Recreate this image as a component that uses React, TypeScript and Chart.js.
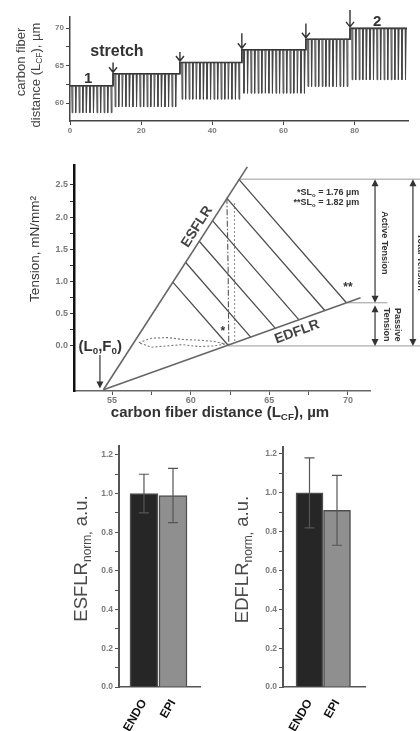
import React, { useEffect, useRef } from "react";
import { Chart, registerables } from "chart.js";

Chart.register(...registerables);

const FONT = "'Liberation Sans', Arial, Helvetica, sans-serif";

/* ---------------- Panel A: carbon fiber distance during stepwise stretch ---------------- */
const stepStartS = [0, 12.1, 30.9, 48.3, 66.3, 78.7];
const stepEndS = [12.1, 30.9, 48.3, 66.3, 78.7, 94.7];
const diastolicLcf = [62.3, 63.9, 65.4, 67.1, 68.5, 69.95];
const systolicLcf = [58.7, 59.5, 60.5, 61.3, 62.2, 63.1];
const pacingPeriodS = 1;
const stretchArrowTop = [65.4, 66.8, 69.3, 70.6, 72.4];
const timeTicks = [0, 20, 40, 60, 80];
const lcfTicksMajorA = [60, 65, 70];
const lcfTicksMinorA = [62.5, 67.5];

/* ---------------- Panel B: tension vs carbon fiber distance ---------------- */
const esflrX = [54.45, 63.6];
const esflrY = [-0.68, 2.78];
const edflrX = [54.45, 70.8];
const edflrY = [-0.68, 0.75];
const hatchStartX = [63.05, 62.28, 61.37, 60.53, 59.67, 58.86];
const hatchStartY = [2.59, 2.3, 1.95, 1.63, 1.3, 0.99];
const hatchEndX = [69.9, 68.54, 66.9, 65.4, 63.84, 62.38];
const hatchEndY = [0.67, 0.546, 0.4, 0.268, 0.13, 0.01];
const twitchLoopX = [56.7, 57.5, 58.5, 59.5, 60.5, 61.5, 62.2, 61.5, 60.5, 59.5, 58.5, 57.5, 56.7];
const twitchLoopY = [0.05, 0.12, 0.13, 0.1, 0.09, 0.07, 0.03, 0.0, -0.01, 0.02, 0.0, -0.02, 0.05];
const slTraceX = [62.3, 62.38, 62.42];
const slTraceY = [2.3, 1.2, 0.02];
const slTrace2X = [62.78, 62.8];
const slTrace2Y = [2.22, 0.05];
const totalTensionTop = 2.59;
const passiveTensionTop = 0.67;
const zeroTension = 0;
const tensionMajor = [0, 0.5, 1, 1.5, 2, 2.5];
const tensionMinor = [0.25, 0.75, 1.25, 1.75, 2.25];
const lcfMajor = [55, 60, 65, 70];
const lcfMinor = [57.5, 62.5, 67.5];

/* ---------------- Panels C, D: normalized slopes ---------------- */
const groups = ["ENDO", "EPI"];
const esflrMean = [1.0, 0.99];
const esflrSem = [0.1, 0.14];
const edflrMean = [1.0, 0.91];
const edflrSem = [0.18, 0.18];
const barMajor = [0, 0.2, 0.4, 0.6, 0.8, 1.0, 1.2];
const barMinor = [0.1, 0.3, 0.5, 0.7, 0.9, 1.1];
const barFill = ["#262626", "#8f8f8f"];

/* ---------------- helpers ---------------- */
type Part = { t: string; s?: "sub" | "sup" };

function rich(
  ctx: CanvasRenderingContext2D,
  parts: Part[],
  x: number,
  y: number,
  size: number,
  weight: string,
  color: string,
  align: "left" | "center" | "right" = "center",
  angle = 0
) {
  ctx.save();
  ctx.translate(x, y);
  if (angle) ctx.rotate(angle);
  ctx.fillStyle = color;
  ctx.textBaseline = "middle";
  ctx.textAlign = "left";
  const f = (p: Part) => `${weight} ${p.s ? (size * 0.65).toFixed(1) : size}px ${FONT}`;
  let w = 0;
  parts.forEach((p) => {
    ctx.font = f(p);
    w += ctx.measureText(p.t).width;
  });
  let cx = align === "left" ? 0 : align === "right" ? -w : -w / 2;
  parts.forEach((p) => {
    ctx.font = f(p);
    const dy = p.s === "sub" ? size * 0.3 : p.s === "sup" ? -size * 0.35 : 0;
    ctx.fillText(p.t, cx, dy);
    cx += ctx.measureText(p.t).width;
  });
  ctx.restore();
}

function txt(
  ctx: CanvasRenderingContext2D,
  t: string,
  x: number,
  y: number,
  size: number,
  weight: string,
  color: string,
  align: "left" | "center" | "right" = "center",
  angle = 0
) {
  rich(ctx, [{ t }], x, y, size, weight, color, align, angle);
}

function head(ctx: CanvasRenderingContext2D, x: number, y: number, dir: number, w = 3.5, h = 7) {
  ctx.beginPath();
  ctx.moveTo(x, y);
  ctx.lineTo(x - w, y - dir * h);
  ctx.lineTo(x + w, y - dir * h);
  ctx.closePath();
  ctx.fill();
}

const setTicks = (major: number[], minor: number[]) => (scale: any) => {
  scale.ticks = [...major, ...minor].sort((a, b) => a - b).map((v) => ({ value: v }));
};

const tickFont = (size: number) => ({ family: FONT, size, weight: "bold" as const });

const pts = (xs: number[], ys: number[]) => xs.map((v, i) => ({ x: v, y: ys[i] }));

function buildTrace() {
  const out: { x: number; y: number }[] = [];
  for (let i = 0; i < stepStartS.length; i++) {
    const d = diastolicLcf[i];
    const s = systolicLcf[i];
    out.push({ x: stepStartS[i], y: d });
    for (let t = stepStartS[i] + 0.5; t < stepEndS[i] - 0.3; t += pacingPeriodS) {
      out.push({ x: t, y: d }, { x: t + 0.1, y: s }, { x: t + 0.3, y: d });
    }
    out.push({ x: stepEndS[i], y: d });
  }
  return out;
}

function buildEnvelope() {
  const out: { x: number; y: number }[] = [];
  for (let i = 0; i < stepStartS.length; i++) {
    out.push({ x: stepStartS[i], y: diastolicLcf[i] }, { x: stepEndS[i], y: diastolicLcf[i] });
  }
  return out;
}

const baseOptions = {
  responsive: false,
  animation: false as const,
  devicePixelRatio: 1,
  events: [] as any[],
  plugins: { legend: { display: false }, tooltip: { enabled: false } },
  elements: { point: { radius: 0 }, line: { tension: 0 } },
};

/* ---------------- Panel A config ---------------- */
function configA(): any {
  const plugin = {
    id: "panelA",
    afterDraw(chart: any) {
      const { ctx } = chart;
      const X = (v: number) => chart.scales.x.getPixelForValue(v);
      const Y = (v: number) => chart.scales.y.getPixelForValue(v);
      ctx.save();
      ctx.strokeStyle = "#333";
      ctx.lineWidth = 1.4;
      stretchArrowTop.forEach((top, i) => {
        const px = X(stepStartS[i + 1]);
        const y0 = Y(top);
        const y1 = Y(diastolicLcf[i + 1]) - 1.5;
        ctx.beginPath();
        ctx.moveTo(px, y0);
        ctx.lineTo(px, y1);
        ctx.moveTo(px - 4, y1 - 5);
        ctx.lineTo(px, y1);
        ctx.lineTo(px + 4, y1 - 5);
        ctx.stroke();
      });
      ctx.restore();
      txt(ctx, "1", X(5.1), Y(63.2), 15, "bold", "#333");
      txt(ctx, "stretch", X(13.2), Y(66.8), 16, "bold", "#333");
      txt(ctx, "2", X(86.3), Y(70.8), 15, "bold", "#333");
      txt(ctx, "carbon fiber", 21, 62, 13, "normal", "#444", "center", -Math.PI / 2);
      rich(
        ctx,
        [{ t: "distance (L" }, { t: "CF", s: "sub" }, { t: "), µm" }],
        36,
        75,
        13,
        "normal",
        "#444",
        "center",
        -Math.PI / 2
      );
    },
  };
  return {
    type: "scatter",
    data: {
      datasets: [
        { data: buildTrace(), showLine: true, borderColor: "#454545", borderWidth: 1, pointRadius: 0 },
        { data: buildEnvelope(), showLine: true, borderColor: "#1e1e1e", borderWidth: 1.6, pointRadius: 0 },
      ],
    },
    options: {
      ...baseOptions,
      layout: { padding: { top: 17, right: 12, left: 0, bottom: 0 } },
      scales: {
        x: {
          type: "linear",
          min: 0,
          max: 95,
          afterBuildTicks: setTicks(timeTicks, []),
          afterFit: (s: any) => {
            s.height = 19;
          },
          ticks: { font: tickFont(8), color: "#7a7a7a", padding: 1, maxRotation: 0, autoSkip: false, callback: (v: number) => String(v) },
          grid: { drawOnChartArea: false, tickLength: 4, tickColor: "#444" },
          border: { display: true, color: "#444", width: 1.5 },
        },
        y: {
          type: "linear",
          min: 57.6,
          max: 71.47,
          afterBuildTicks: setTicks(lcfTicksMajorA, lcfTicksMinorA),
          afterFit: (s: any) => {
            s.width = 70;
          },
          ticks: {
            font: tickFont(8),
            color: "#7a7a7a",
            padding: 2,
            autoSkip: false,
            callback: (v: number) => (lcfTicksMajorA.includes(v) ? String(v) : ""),
          },
          grid: { drawOnChartArea: false, tickLength: 4, tickColor: "#444" },
          border: { display: true, color: "#444", width: 1.5 },
        },
      },
    },
    plugins: [plugin],
  };
}

/* ---------------- Panel B config ---------------- */
function configB(): any {
  const guideRight = 74.64;
  const activeX = 71.72;
  const totalX = 74.13;
  const plugin = {
    id: "panelB",
    afterDatasetsDraw(chart: any) {
      const { ctx } = chart;
      const X = (v: number) => chart.scales.x.getPixelForValue(v);
      const Y = (v: number) => chart.scales.y.getPixelForValue(v);
      ctx.save();
      ctx.strokeStyle = "#333";
      ctx.fillStyle = "#333";
      ctx.lineWidth = 1.2;
      const dbl = (xv: number, top: number, bot: number) => {
        const px = X(xv);
        const y0 = Y(top);
        const y1 = Y(bot);
        ctx.beginPath();
        ctx.moveTo(px, y0 + 3);
        ctx.lineTo(px, y1 - 3);
        ctx.stroke();
        head(ctx, px, y0, -1, 3.5, 7);
        head(ctx, px, y1, 1, 3.5, 7);
      };
      dbl(activeX, totalTensionTop, passiveTensionTop);
      dbl(activeX, passiveTensionTop - 0.04, zeroTension);
      dbl(totalX, totalTensionTop, zeroTension);
      // (L0,F0) arrow
      const ax = X(54.23);
      ctx.beginPath();
      ctx.moveTo(ax, Y(-0.14));
      ctx.lineTo(ax, Y(-0.6));
      ctx.stroke();
      head(ctx, ax, Y(-0.66), 1, 3.5, 7);
      ctx.restore();

      txt(ctx, "ESFLR", X(60.4), Y(1.85), 14, "bold", "#444", "center", (-57.5 * Math.PI) / 180);
      txt(ctx, "EDFLR", X(66.76), Y(0.217), 14, "bold", "#444", "center", (-19.9 * Math.PI) / 180);
      rich(
        ctx,
        [{ t: "(L" }, { t: "0", s: "sub" }, { t: ",F" }, { t: "0", s: "sub" }, { t: ")" }],
        X(54.25),
        Y(-0.016),
        15,
        "bold",
        "#333"
      );
      txt(ctx, "*", X(62.05), Y(0.22), 12, "bold", "#333");
      txt(ctx, "**", X(70.0), Y(0.9), 12, "bold", "#333");
      rich(ctx, [{ t: "*SL" }, { t: "o", s: "sub" }, { t: " = 1.76 µm" }], X(70.71), Y(2.375), 9, "bold", "#333", "right");
      rich(ctx, [{ t: "**SL" }, { t: "o", s: "sub" }, { t: " = 1.82 µm" }], X(70.71), Y(2.22), 9, "bold", "#333", "right");
      txt(ctx, "Active Tension", X(72.35), Y(1.6), 9, "bold", "#333", "center", Math.PI / 2);
      txt(ctx, "Passive", X(73.12), Y(0.33), 9, "bold", "#333", "center", Math.PI / 2);
      txt(ctx, "Tension", X(72.42), Y(0.33), 9, "bold", "#333", "center", Math.PI / 2);
      txt(ctx, "Total Tension", X(74.64), Y(1.3), 9, "bold", "#333", "center", Math.PI / 2);

      txt(ctx, "Tension, mN/mm²", 35, 109, 13.5, "normal", "#333", "center", -Math.PI / 2);
      rich(
        ctx,
        [{ t: "carbon fiber distance (L" }, { t: "CF", s: "sub" }, { t: "), µm" }],
        220,
        273,
        15,
        "bold",
        "#333"
      );
    },
  };
  const line = (data: any[], color: string, width: number, dash: number[] = []) => ({
    data,
    showLine: true,
    borderColor: color,
    borderWidth: width,
    borderDash: dash,
    pointRadius: 0,
    clip: false,
  });
  return {
    type: "scatter",
    data: {
      datasets: [
        line(pts(esflrX, esflrY), "#666", 1.6),
        line(pts(edflrX, edflrY), "#666", 1.6),
        ...hatchStartX.map((_, i) =>
          line(
            [
              { x: hatchStartX[i], y: hatchStartY[i] },
              { x: hatchEndX[i], y: hatchEndY[i] },
            ],
            "#4d4d4d",
            1.3
          )
        ),
        line(
          [
            { x: hatchStartX[0], y: totalTensionTop },
            { x: guideRight, y: totalTensionTop },
          ],
          "#9a9a9a",
          1
        ),
        line(
          [
            { x: hatchEndX[hatchEndX.length - 1], y: zeroTension },
            { x: guideRight, y: zeroTension },
          ],
          "#9a9a9a",
          1
        ),
        line(
          [
            { x: hatchEndX[0], y: passiveTensionTop },
            { x: 72.5, y: passiveTensionTop },
          ],
          "#9a9a9a",
          1
        ),
        line(pts(slTraceX, slTraceY), "#555", 1.1, [6, 2, 1.5, 2]),
        line(pts(slTrace2X, slTrace2Y), "#888", 1, [2, 2]),
        line(pts(twitchLoopX, twitchLoopY), "#777", 1.1, [2, 2]),
      ],
    },
    options: {
      ...baseOptions,
      layout: { padding: { top: 25, right: 50, left: 0, bottom: 0 } },
      scales: {
        x: {
          type: "linear",
          min: 52.58,
          max: 71.4,
          afterBuildTicks: setTicks(lcfMajor, lcfMinor),
          afterFit: (s: any) => {
            s.height = 39;
          },
          ticks: {
            font: tickFont(9),
            color: "#7a7a7a",
            padding: 0,
            maxRotation: 0,
            autoSkip: false,
            callback: (v: number) => (lcfMajor.includes(v) ? String(v) : ""),
          },
          grid: { drawOnChartArea: false, tickLength: 4, tickColor: "#555" },
          border: { display: true, color: "#666", width: 1.5 },
        },
        y: {
          type: "linear",
          min: -0.7,
          max: 2.81,
          afterBuildTicks: setTicks(tensionMajor, tensionMinor),
          afterFit: (s: any) => {
            s.width = 74;
          },
          ticks: {
            font: tickFont(9),
            color: "#7a7a7a",
            padding: 2,
            autoSkip: false,
            callback: (v: number) => (tensionMajor.includes(v) ? v.toFixed(1) : ""),
          },
          grid: { drawOnChartArea: false, tickLength: 4, tickColor: "#333" },
          border: { display: true, color: "#111", width: 2.5 },
        },
      },
    },
    plugins: [plugin],
  };
}

/* ---------------- Panels C, D config ---------------- */
function configBar(
  means: number[],
  sems: number[],
  titleMain: string,
  title: { x: number; y: number },
  xr: { min: number; max: number },
  yMax: number,
  axisW: number,
  pad: { top: number; right: number },
  barW: number
): any {
  const plugin = {
    id: "bars-" + titleMain,
    afterDatasetsDraw(chart: any) {
      const { ctx } = chart;
      const meta = chart.getDatasetMeta(0);
      const Y = (v: number) => chart.scales.y.getPixelForValue(v);
      ctx.save();
      ctx.strokeStyle = "#555";
      ctx.lineWidth = 1.2;
      meta.data.forEach((bar: any, i: number) => {
        const x = bar.x;
        const yt = Y(means[i] + sems[i]);
        const yb = Y(means[i] - sems[i]);
        ctx.beginPath();
        ctx.moveTo(x, yt);
        ctx.lineTo(x, yb);
        ctx.moveTo(x - 5, yt);
        ctx.lineTo(x + 5, yt);
        ctx.moveTo(x - 5, yb);
        ctx.lineTo(x + 5, yb);
        ctx.stroke();
      });
      ctx.restore();
      rich(
        ctx,
        [{ t: titleMain }, { t: "norm,", s: "sub" }, { t: " a.u." }],
        title.x,
        title.y,
        18.5,
        "normal",
        "#4a4a4a",
        "center",
        -Math.PI / 2
      );
    },
  };
  return {
    type: "bar",
    data: {
      datasets: [
        {
          data: means.map((m, i) => ({ x: i, y: m })),
          backgroundColor: barFill,
          borderColor: "#4f4f4f",
          borderWidth: 1.5,
          barThickness: barW,
        },
      ],
    },
    options: {
      ...baseOptions,
      layout: { padding: { top: pad.top, right: pad.right, left: 0, bottom: 0 } },
      scales: {
        x: {
          type: "linear",
          offset: false,
          min: xr.min,
          max: xr.max,
          afterBuildTicks: setTicks([0, 1], []),
          afterFit: (s: any) => {
            s.height = 44;
          },
          ticks: {
            font: { family: FONT, size: 12, weight: "bold" },
            color: "#111",
            padding: 2,
            minRotation: 60,
            maxRotation: 60,
            autoSkip: false,
            callback: (v: number) => groups[v] ?? "",
          },
          grid: { display: false },
          border: { display: true, color: "#555", width: 1.5 },
        },
        y: {
          type: "linear",
          min: 0,
          max: yMax,
          afterBuildTicks: setTicks(barMajor, barMinor),
          afterFit: (s: any) => {
            s.width = axisW;
          },
          ticks: {
            font: tickFont(8.5),
            color: "#7a7a7a",
            padding: 2,
            autoSkip: false,
            callback: (v: number) => (barMajor.includes(v) ? v.toFixed(1) : ""),
          },
          grid: { drawOnChartArea: false, tickLength: 4, tickColor: "#555" },
          border: { display: true, color: "#555", width: 2 },
        },
      },
    },
    plugins: [plugin],
  };
}

export default function App() {
  const refA = useRef<HTMLCanvasElement>(null);
  const refB = useRef<HTMLCanvasElement>(null);
  const refC = useRef<HTMLCanvasElement>(null);
  const refD = useRef<HTMLCanvasElement>(null);

  useEffect(() => {
    const charts = [
      new Chart(refA.current!, configA()),
      new Chart(refB.current!, configB()),
      new Chart(
        refC.current!,
        configBar(esflrMean, esflrSem, "ESFLR", { x: 82, y: 133.5 }, { min: -0.86, max: 1.93 }, 1.246, 119, { top: 21, right: 10 }, 28)
      ),
      new Chart(
        refD.current!,
        configBar(edflrMean, edflrSem, "EDFLR", { x: 33, y: 134.5 }, { min: -0.964, max: 2.018 }, 1.236, 73, { top: 22, right: 55 }, 27)
      ),
    ];
    return () => charts.forEach((c) => c.destroy());
  }, []);

  const abs = (l: number, t: number): React.CSSProperties => ({ position: "absolute", left: l, top: t });

  return (
    <div style={{ position: "absolute", left: 0, top: 0, width: 420, height: 731, background: "#fff", overflow: "hidden" }}>
      <canvas ref={refA} width={420} height={140} style={abs(0, 0)} />
      <canvas ref={refB} width={420} height={290} style={abs(0, 140)} />
      <canvas ref={refC} width={210} height={306} style={abs(0, 425)} />
      <canvas ref={refD} width={210} height={306} style={abs(210, 425)} />
    </div>
  );
}
